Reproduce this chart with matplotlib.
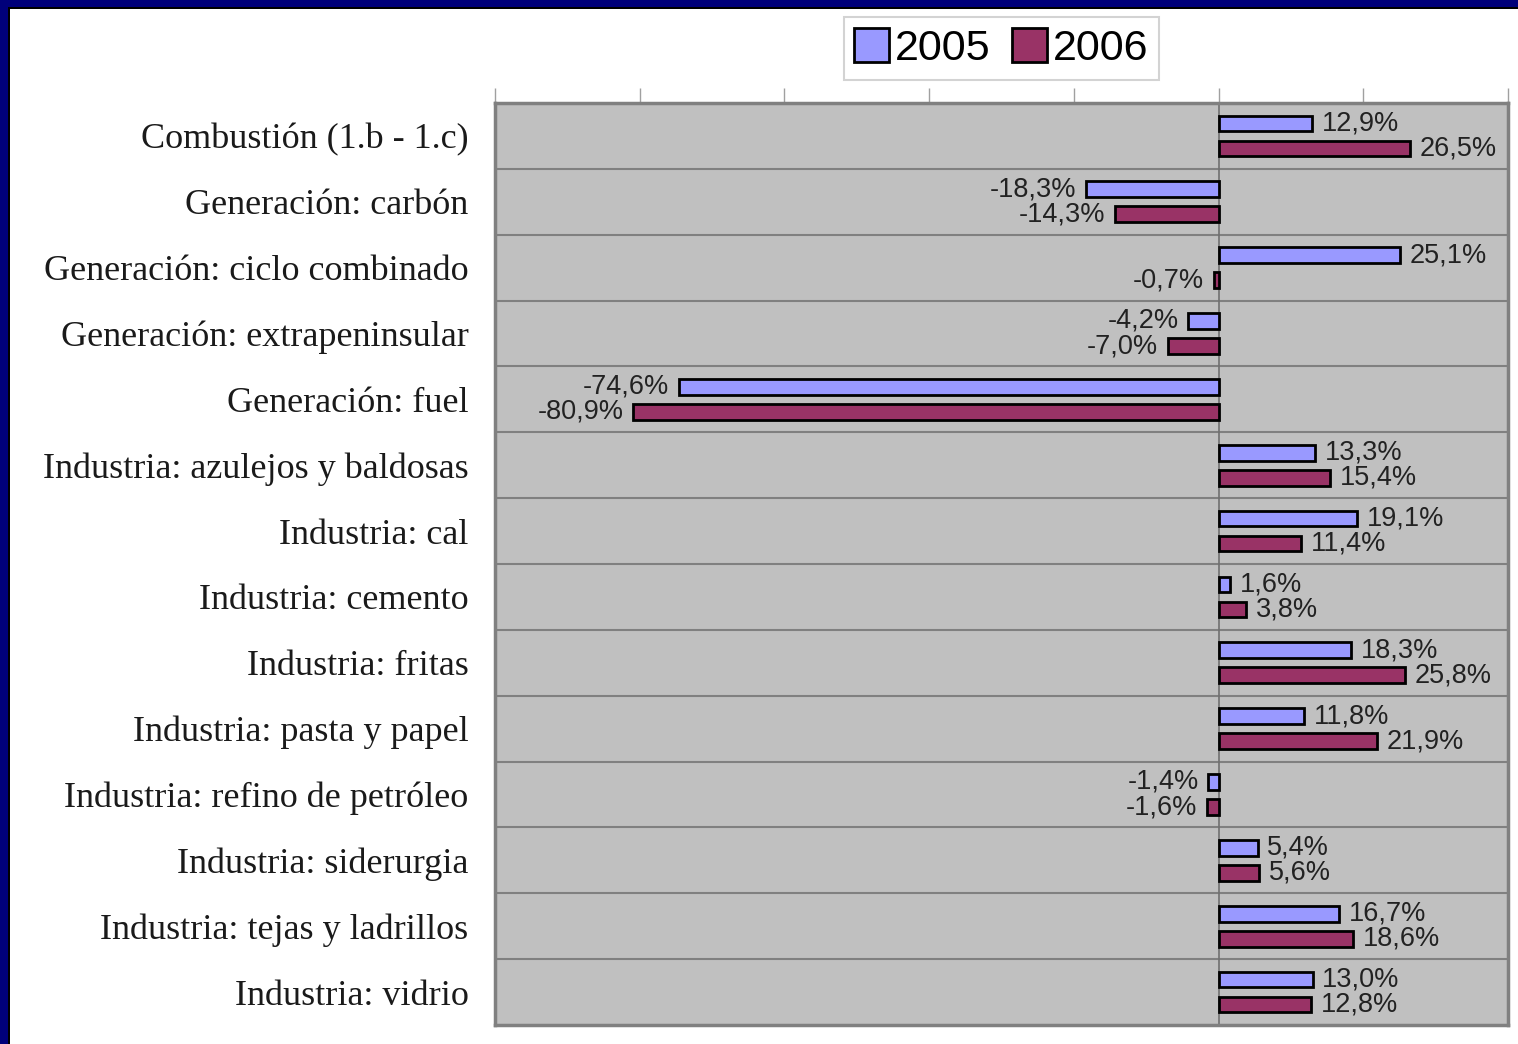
import matplotlib
matplotlib.use("Agg")
import matplotlib.pyplot as plt
from matplotlib.patches import Rectangle
import numpy as np

categories = [
    "Combustión (1.b - 1.c)",
    "Generación: carbón",
    "Generación: ciclo combinado",
    "Generación: extrapeninsular",
    "Generación: fuel",
    "Industria: azulejos y baldosas",
    "Industria: cal",
    "Industria: cemento",
    "Industria: fritas",
    "Industria: pasta y papel",
    "Industria: refino de petróleo",
    "Industria: siderurgia",
    "Industria: tejas y ladrillos",
    "Industria: vidrio",
]
series_names = ["2005", "2006"]
values_2005 = [12.9, -18.3, 25.1, -4.2, -74.6, 13.3, 19.1, 1.6, 18.3, 11.8, -1.4, 5.4, 16.7, 13.0]
values_2006 = [26.5, -14.3, -0.7, -7.0, -80.9, 15.4, 11.4, 3.8, 25.8, 21.9, -1.6, 5.6, 18.6, 12.8]
colors = ["#9999FF", "#993366"]

W, H = 1518, 1044
fig = plt.figure(figsize=(W / 100, H / 100), dpi=100)
fig.patch.set_facecolor("white")

# navy frame (top & left)
fig.patches.append(Rectangle((0, 1 - 7 / H), 1, 7 / H, transform=fig.transFigure,
                             facecolor="#00007A", edgecolor="none", zorder=0))
fig.patches.append(Rectangle((0, 1 - 9 / H), 1, 2 / H, transform=fig.transFigure,
                             facecolor="#000000", edgecolor="none", zorder=0))
fig.patches.append(Rectangle((0, 0), 8 / W, 1, transform=fig.transFigure,
                             facecolor="#00007A", edgecolor="none", zorder=0))
fig.patches.append(Rectangle((8 / W, 0), 2 / W, 1 - 7 / H, transform=fig.transFigure,
                             facecolor="#000000", edgecolor="none", zorder=0))

ax_l, ax_r, ax_t, ax_b = 495, 1508, 103, 1025
ax = fig.add_axes([ax_l / W, 1 - ax_b / H, (ax_r - ax_l) / W, (ax_b - ax_t) / H])
ax.set_facecolor("#C0C0C0")

n = len(categories)
y = np.arange(n)
h = 0.24
off = 0.19
b1 = ax.barh(y - off, values_2005, height=h, color=colors[0], edgecolor="black",
             linewidth=2, label=series_names[0], zorder=3)
b2 = ax.barh(y + off, values_2006, height=h, color=colors[1], edgecolor="black",
             linewidth=2, label=series_names[1], zorder=3)

def fmt(v):
    return f"{v:.1f}".replace(".", ",") + "%"

for vals, yy in ((values_2005, y - off), (values_2006, y + off)):
    for v, yc in zip(vals, yy):
        if v >= 0:
            ax.annotate(fmt(v), (v, yc), xytext=(7, 0), textcoords="offset points",
                        ha="left", va="center", fontsize=19.5, family="Liberation Sans",
                        color="#222222", zorder=4)
        else:
            ax.annotate(fmt(v), (v, yc), xytext=(-7, 0), textcoords="offset points",
                        ha="right", va="center", fontsize=19.5, family="Liberation Sans",
                        color="#222222", zorder=4)

ax.set_xlim(-100, 40)
ax.set_ylim(n - 0.5, -0.5)

# category separators
for k in range(1, n):
    ax.axhline(k - 0.5, color="#808080", linewidth=1.5, zorder=1)
ax.axvline(0, color="#707070", linewidth=1.2, zorder=2)

ax.set_yticks(y)
ax.set_yticklabels(categories, family="Liberation Serif", fontsize=26, color="#1a1a1a")
ax.tick_params(axis="y", length=0, pad=19)

ax.xaxis.tick_top()
ax.set_xticks(np.arange(-100, 41, 20))
ax.set_xticklabels([])
ax.tick_params(axis="x", direction="out", length=11, width=1, color="#A0A0A0")

for s in ax.spines.values():
    s.set_color("#808080")
    s.set_linewidth(2.5)

leg = fig.legend(handles=[b1, b2], labels=series_names, loc="upper center",
                 bbox_to_anchor=(((ax_l + ax_r) / 2) / W, 1 - 17 / H),
                 ncol=2, frameon=True, fancybox=False,
                 prop={"family": "Liberation Sans", "size": 31},
                 handlelength=0.8, handleheight=0.85, handletextpad=0.15,
                 columnspacing=0.5, borderpad=0.25, borderaxespad=0)
leg.get_frame().set_edgecolor("#C8C8C8")
leg.get_frame().set_linewidth(1.5)

fig.savefig("out.png", dpi=100, facecolor="white")
